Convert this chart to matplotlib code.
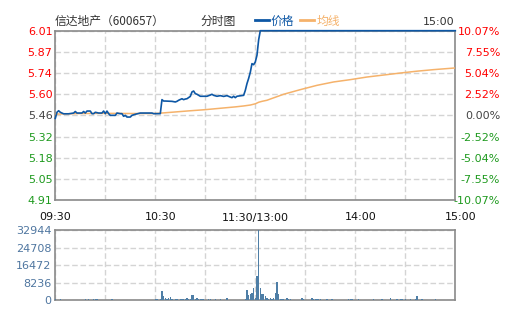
import matplotlib
matplotlib.use("Agg")
import matplotlib.pyplot as plt
from matplotlib.transforms import ScaledTranslation

# ---------------- data ----------------
prev_close = 5.46
price_min = [0, 1, 2, 3, 4, 5, 8, 11, 12, 13, 16, 17, 18, 19, 21, 22, 23, 24, 26, 28,
             29, 30, 31, 32, 33, 36, 37, 39, 40, 41, 42, 43, 45, 46, 48, 51, 58, 59, 63, 64,
             65, 66, 70, 72, 73, 74, 76, 77, 78, 79, 81, 82, 83, 84, 85, 87, 91, 93, 94, 95,
             97, 99, 101, 103, 105, 106, 107, 108, 109, 113, 114, 115, 116, 117, 118, 119, 120, 121, 122, 123,
             240]
price_val = [5.440, 5.480, 5.490, 5.480, 5.475, 5.470, 5.470, 5.475, 5.485, 5.475, 5.475, 5.485, 5.475, 5.488, 5.488, 5.471, 5.471, 5.480, 5.475, 5.475,
             5.488, 5.471, 5.488, 5.471, 5.460, 5.460, 5.475, 5.471, 5.471, 5.454, 5.460, 5.449, 5.449, 5.460, 5.467, 5.475, 5.475, 5.471, 5.471, 5.562,
             5.553, 5.553, 5.551, 5.547, 5.551, 5.558, 5.568, 5.562, 5.566, 5.568, 5.583, 5.612, 5.618, 5.601, 5.597, 5.584, 5.584, 5.592, 5.597, 5.590,
             5.584, 5.588, 5.583, 5.588, 5.579, 5.575, 5.584, 5.575, 5.584, 5.590, 5.622, 5.666, 5.700, 5.740, 5.796, 5.789, 5.807, 5.850, 5.950, 6.010,
             6.010]

avg_min = [0, 15, 30, 45, 60, 65, 72, 80, 90, 100, 108, 113, 117, 120, 122, 124, 127, 129,
           137, 147, 157, 167, 177, 187, 197, 207, 217, 227, 240]
avg_val = [5.468, 5.472, 5.473, 5.472, 5.472, 5.476, 5.482, 5.489, 5.497, 5.507, 5.515, 5.521, 5.527, 5.535, 5.545, 5.551, 5.558, 5.566,
           5.597, 5.627, 5.655, 5.677, 5.692, 5.709, 5.722, 5.735, 5.747, 5.757, 5.768]

volume = [
    600, 300, 200, 800, 200, 200, 200, 200, 200, 200,
    200, 200, 200, 200, 200, 200, 200, 200, 600, 200,
    600, 200, 200, 600, 500, 700, 200, 200, 200, 200,
    200, 200, 200, 200, 700, 200, 200, 200, 200, 200,
    200, 200, 200, 200, 200, 200, 200, 200, 200, 200,
    200, 200, 200, 200, 200, 200, 200, 200, 200, 200,
    600, 600, 300, 700, 4300, 1900, 1000, 700, 1000, 1400,
    700, 300, 700, 600, 300, 800, 700, 600, 700, 1200,
    600, 800, 2500, 2500, 600, 1000, 800, 700, 700, 600,
    300, 300, 600, 700, 300, 300, 600, 300, 300, 700,
    300, 300, 300, 1100, 300, 300, 300, 300, 300, 300,
    300, 300, 300, 300, 600, 4800, 2700, 3000, 3300, 5800,
    1000, 11400, 32944, 5800, 3000, 3000, 2000, 1000, 500, 1000,
    500, 1000, 3600, 8600, 3000, 500, 500, 500, 300, 1000,
    700, 500, 300, 300, 300, 300, 300, 300, 1000, 500,
    300, 300, 300, 300, 1300, 500, 500, 500, 500, 500,
    300, 300, 300, 600, 300, 300, 600, 300, 300, 300,
    300, 300, 300, 300, 300, 300, 600, 600, 600, 300,
    300, 300, 600, 300, 300, 300, 300, 300, 300, 300,
    300, 500, 300, 300, 300, 300, 600, 300, 300, 300,
    300, 1300, 300, 300, 300, 500, 300, 600, 600, 300,
    600, 300, 300, 600, 300, 300, 600, 1900, 300, 300,
    500, 300, 300, 300, 300, 300, 300, 300, 500, 300,
    300, 300, 300, 300, 300, 300, 300, 300, 300, 300,
    300]
vol_min = list(range(len(volume)))

price_ticks = [4.91, 5.0475, 5.185, 5.3225, 5.46, 5.5975, 5.735, 5.8725, 6.01]
price_labels = ["4.91", "5.05", "5.18", "5.32", "5.46", "5.60", "5.74", "5.87", "6.01"]
pct_labels = ["-10.07%", "-7.55%", "-5.04%", "-2.52%", "0.00%", "2.52%", "5.04%", "7.55%", "10.07%"]
vol_ticks = [0, 8236, 16472, 24708, 32944]
vol_labels = ["0", "8236", "16472", "24708", "32944"]
time_ticks = [0, 60, 120, 180, 240]
time_labels = ["09:30", "10:30", "11:30/13:00", "14:00", "15:00"]

# ---------------- style ----------------
W, H = 505, 330
fig = plt.figure(figsize=(W / 100, H / 100), dpi=100)
fig.patch.set_facecolor("white")
CJK = ["Noto Sans CJK SC", "DejaVu Sans"]
FRAME = "#8a8a8a"
GRID = "#d4d4d4"
RED = "#ff0000"
GREEN = "#1e9a1e"
GRAYTXT = "#444444"
BLUE = "#0d57a5"
ORANGE = "#f5b26b"
VOLC = "#4e7ea6"
FS = 8


def px(x, y):
    return x / W, 1 - y / H


L, R = 55.3, 455.3
ax = fig.add_axes([L / W, 1 - 200 / H, (R - L) / W, (200 - 30.7) / H])
axv = fig.add_axes([L / W, 1 - 300.3 / H, (R - L) / W, (300.3 - 230.3) / H])

for a in (ax, axv):
    for s in a.spines.values():
        s.set_color(FRAME)
        s.set_linewidth(1.2)
    a.set_xlim(0, 240)
    a.set_xticks(range(0, 241, 30), minor=False)
    a.grid(True, color=GRID, linestyle=(0, (4, 2)), linewidth=1)
    a.set_axisbelow(True)
    a.tick_params(length=0)

# main price axes
ax.set_ylim(4.91, 6.01)
ax.set_yticks(price_ticks)
ax.set_yticklabels(price_labels, fontsize=FS)
ax.tick_params(axis="y", pad=2)
for i, lbl in enumerate(ax.get_yticklabels()):
    v = price_ticks[i]
    lbl.set_color(RED if v > prev_close + 1e-9 else (GREEN if v < prev_close - 1e-9 else GRAYTXT))

ax.set_xticks(range(0, 241, 30))
xl = []
for t in range(0, 241, 30):
    xl.append(time_labels[time_ticks.index(t)] if t in time_ticks else "")
ax.set_xticklabels(xl, fontsize=FS, color="#111111")
ax.tick_params(axis="x", pad=9)
shifts = {"10:30": 5, "14:00": 5, "15:00": 5}
for lbl in ax.get_xticklabels():
    dx = shifts.get(lbl.get_text(), 0)
    if dx:
        lbl.set_transform(lbl.get_transform() + ScaledTranslation(dx / 100, 0, fig.dpi_scale_trans))

ax.plot(avg_min, avg_val, color=ORANGE, linewidth=1.1, zorder=3)
ax.plot(price_min, price_val, color=BLUE, linewidth=1.2, zorder=4, clip_on=False)

# right percentage axis
axr = ax.twinx()
axr.set_ylim(-10.07, 10.07)
pct_ticks = [(p - prev_close) / prev_close * 100 / 1.0073 * 1.0 for p in price_ticks]
axr.set_yticks([-10.07, -7.5525, -5.035, -2.5175, 0, 2.5175, 5.035, 7.5525, 10.07])
axr.set_yticklabels(pct_labels, fontsize=FS, ha="right")
axr.tick_params(axis="y", length=0, pad=44.7 * 72 / 100)
for s in axr.spines.values():
    s.set_visible(False)
for i, lbl in enumerate(axr.get_yticklabels()):
    lbl.set_color(GREEN if i < 4 else (GRAYTXT if i == 4 else RED))

# volume axes
axv.set_ylim(0, 32944)
axv.set_yticks(vol_ticks)
axv.set_yticklabels(vol_labels, fontsize=FS, color="#4f76a0")
axv.tick_params(axis="y", pad=2.6)
axv.set_xticklabels([])
axv.bar(vol_min, volume, width=0.65, color=VOLC, linewidth=0, zorder=3)

# header texts
fig.text(*px(55, 21), "信达地产（600657）", fontsize=8.5, family=CJK, color="#333333", va="center", ha="left")
fig.text(*px(200, 21), "分时图", fontsize=8.5, family=CJK, color="#333333", va="center", ha="left")
fig.add_artist(plt.Line2D([255 / W, 268.5 / W], [1 - 20 / H] * 2, color=BLUE, linewidth=2, transform=fig.transFigure))
fig.text(*px(270.5, 21), "价格", fontsize=8.5, family=CJK, color=BLUE, va="center", ha="left")
fig.add_artist(plt.Line2D([300 / W, 313.5 / W], [1 - 20 / H] * 2, color=ORANGE, linewidth=2, transform=fig.transFigure))
fig.text(*px(316.5, 21), "均线", fontsize=8.5, family=CJK, color=ORANGE, va="center", ha="left")
fig.text(*px(454, 22), "15:00", fontsize=FS, color="#333333", va="center", ha="right")

fig.savefig("out.png", dpi=100)
